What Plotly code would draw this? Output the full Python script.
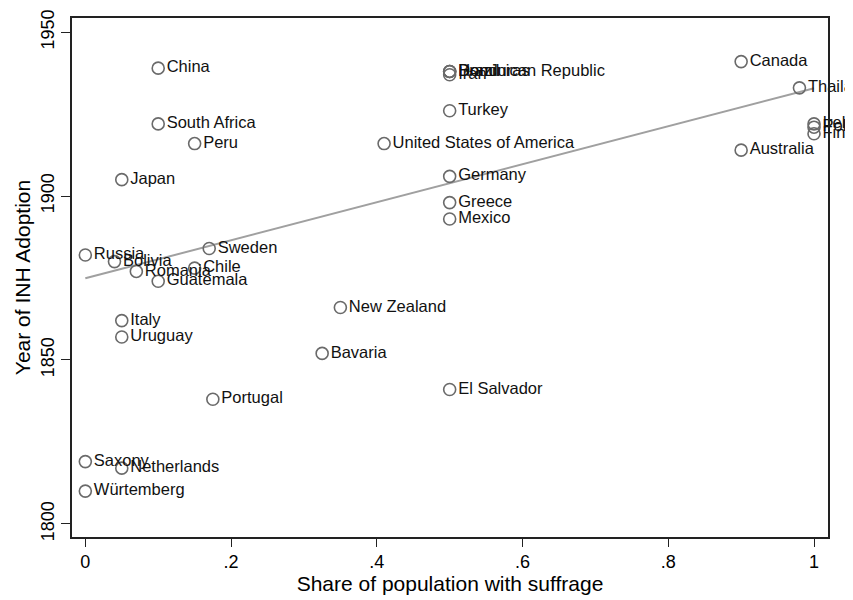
import plotly.graph_objects as go

countries = [
    "China", "South Africa", "Peru", "Japan", "Russia", "Bolivia", "Romania",
    "Chile", "Sweden", "Guatemala", "Italy", "Uruguay", "New Zealand", "Bavaria",
    "Portugal", "El Salvador", "Saxony", "Netherlands", "Würtemberg",
    "United States of America", "Germany", "Greece", "Mexico", "Turkey",
    "Brazil", "Honduras", "Dominican Republic", "Iran",
    "Canada", "Thailand", "Australia", "Ireland", "Poland", "Finland",
]
suffrage = [
    0.10, 0.10, 0.15, 0.05, 0.00, 0.04, 0.07,
    0.15, 0.17, 0.10, 0.05, 0.05, 0.35, 0.325,
    0.175, 0.50, 0.00, 0.05, 0.00,
    0.41, 0.50, 0.50, 0.50, 0.50,
    0.50, 0.50, 0.50, 0.50,
    0.90, 0.98, 0.90, 1.00, 1.00, 1.00,
]
year = [
    1939, 1922, 1916, 1905, 1882, 1880, 1877,
    1878, 1884, 1874, 1862, 1857, 1866, 1852,
    1838, 1841, 1819, 1817, 1810,
    1916, 1906, 1898, 1893, 1926,
    1938, 1938, 1938, 1937,
    1941, 1933, 1914, 1922, 1921, 1919,
]

# linear fit line (endpoints)
fit_x = [0.0, 1.0]
fit_y = [1874.9, 1932.9]

x_ticks = [0, 0.2, 0.4, 0.6, 0.8, 1]
x_ticklabels = ["0", ".2", ".4", ".6", ".8", "1"]
y_ticks = [1800, 1850, 1900, 1950]

font = "Liberation Sans, Arial, Helvetica, sans-serif"

fig = go.Figure()
fig.add_trace(go.Scatter(
    x=fit_x, y=fit_y, mode="lines",
    line=dict(color="#a0a0a0", width=2),
    hoverinfo="skip", showlegend=False,
))
fig.add_trace(go.Scatter(
    x=suffrage, y=year, mode="markers+text",
    text=countries, textposition="middle right",
    textfont=dict(family=font, size=16.5, color="#111111"),
    marker=dict(symbol="circle-open", size=12, color="#6a6a6a",
                line=dict(width=1.6, color="#6a6a6a")),
    cliponaxis=False, showlegend=False,
))

fig.update_layout(
    width=853, height=600,
    margin=dict(l=64, r=33, t=10, b=71),
    paper_bgcolor="white", plot_bgcolor="white",
    font=dict(family=font, color="black"),
)
fig.update_xaxes(
    range=[-0.0183, 1.0192], tickvals=x_ticks, ticktext=x_ticklabels,
    showgrid=False, zeroline=False,
    showline=True, mirror=True, linecolor="#222222", linewidth=1.6,
    ticks="outside", ticklen=8, tickwidth=1.3, tickcolor="#222222",
    tickfont=dict(size=18, family=font),
    automargin="bottom",
    title=dict(text="Share of population with suffrage",
               font=dict(size=21, family=font), standoff=2),
)
fig.update_yaxes(
    range=[1796.0, 1954.3], tickvals=y_ticks,
    showgrid=False, zeroline=False,
    showline=True, mirror=True, linecolor="#222222", linewidth=1.6,
    ticks="outside", ticklen=9, tickwidth=1.3, tickcolor="#222222",
    tickangle=-90,
    tickfont=dict(size=18, family=font),
    automargin="left",
    title=dict(text="Year of INH Adoption",
               font=dict(size=21, family=font), standoff=2),
)

fig.write_html("out.html")
